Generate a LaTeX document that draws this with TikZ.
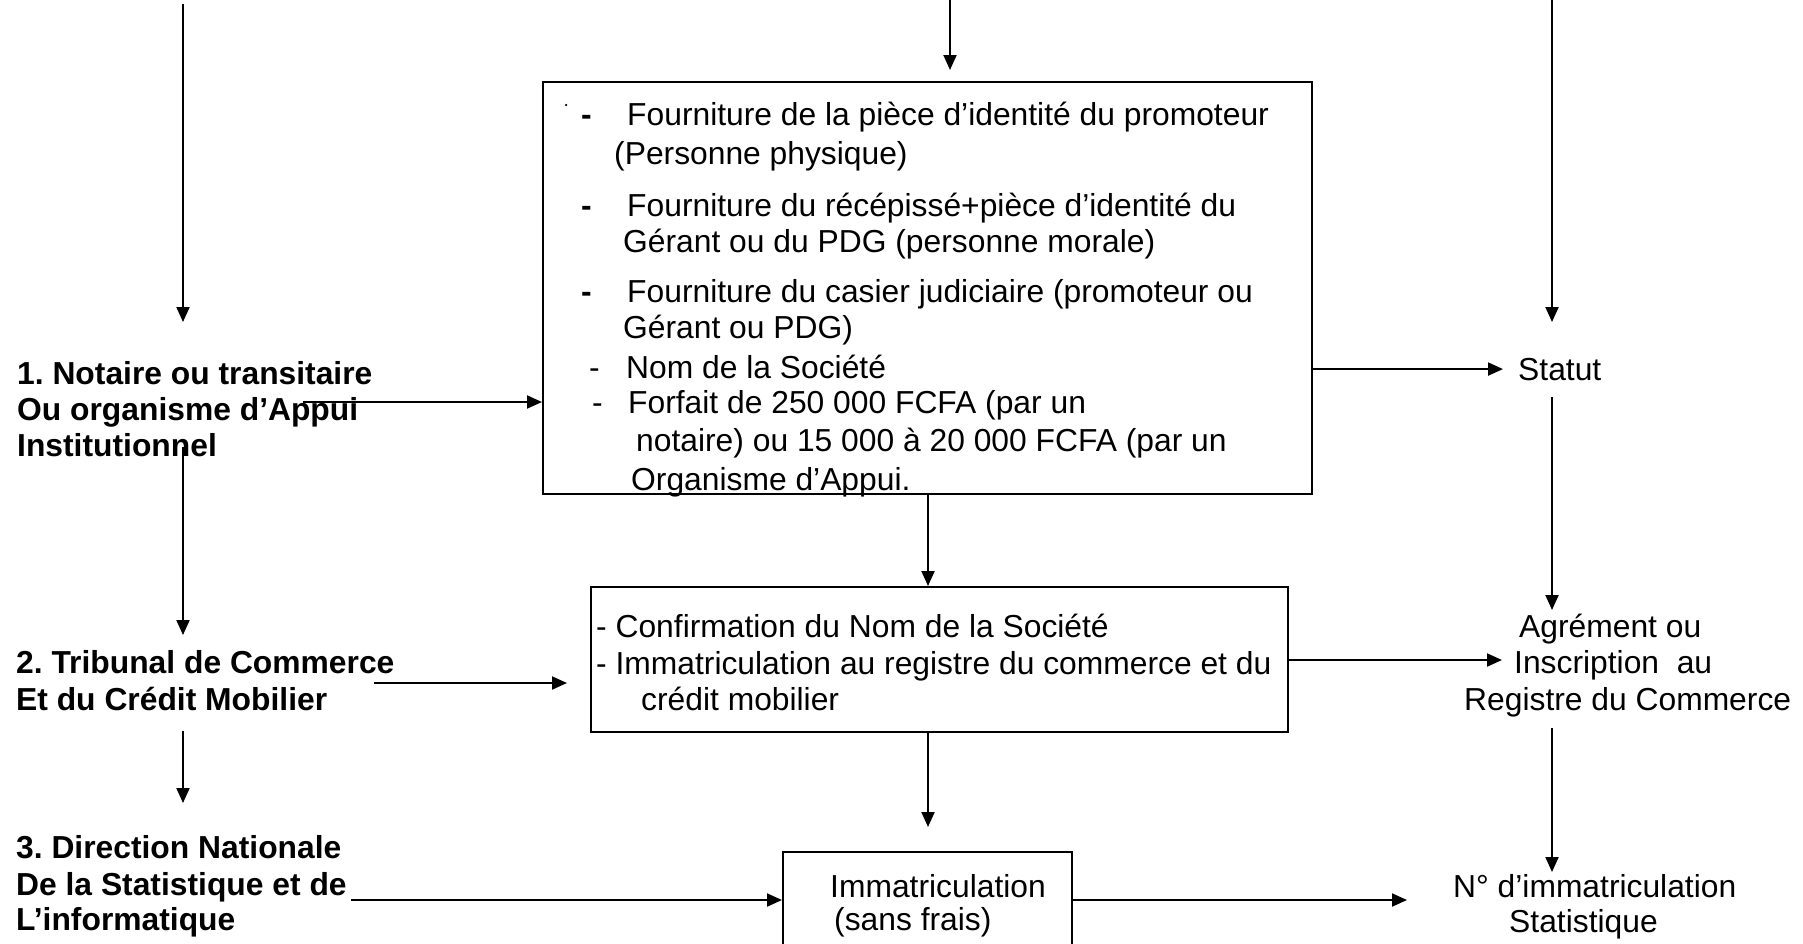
\documentclass[tikz,border=0pt]{standalone}
\usepackage{fontspec}
\setmainfont{Liberation Sans}
\usetikzlibrary{arrows.meta}
\frenchspacing
\begin{document}
\begin{tikzpicture}[x=1pt,y=-1pt,
  lbl/.style={anchor=base west, inner sep=0pt, font=\fontsize{31.8}{38}\selectfont},
  blbl/.style={anchor=base west, inner sep=0pt, font=\fontsize{31.8}{38}\selectfont\bfseries},
  box/.style={draw, line width=2pt, inner sep=0pt},
  arr/.style={line width=2pt, -{Triangle[length=15pt,width=13pt]}}]
\useasboundingbox (0,0) rectangle (1803,943);
\clip (0,0) rectangle (1803,943);

% boxes
\node[box, minimum width=769pt, minimum height=412pt] (box1) at (927.5,288) {};
\node[box, minimum width=697pt, minimum height=145pt] (box2) at (939.5,659.5) {};
\node[box, minimum width=289pt, minimum height=148pt] (box3) at (927.5,926) {};

% left labels
\node[blbl] (n1a) at (17,384) {1. Notaire ou transitaire};
\node[blbl] (n1b) at (17,420) {Ou organisme d’Appui};
\node[blbl] (n1c) at (17,456) {Institutionnel};
\node[blbl] (n2a) at (16,673) {2. Tribunal de Commerce};
\node[blbl] (n2b) at (16,710) {Et du Crédit Mobilier};
\node[blbl] (n3a) at (16,858) {3. Direction Nationale};
\node[blbl] (n3b) at (16,895) {De la Statistique et de};
\node[blbl] (n3c) at (16,930) {L’informatique};

% box 1 text
\node[circle, fill, inner sep=0pt, minimum size=2.5pt] (dot) at (566,105) {};
\node[blbl] (d1) at (581,125) {-};
\node[lbl] (l1) at (627,125) {Fourniture de la pièce d’identité du promoteur};
\node[lbl] (l2) at (614,164) {(Personne physique)};
\node[blbl] (d2) at (581,216) {-};
\node[lbl] (l3) at (627,216) {Fourniture du récépissé+pièce d’identité du};
\node[lbl] (l4) at (623,252) {Gérant ou du PDG (personne morale)};
\node[blbl] (d3) at (581,302) {-};
\node[lbl] (l5) at (627,302) {Fourniture du casier judiciaire (promoteur ou};
\node[lbl] (l6) at (623,338) {Gérant ou PDG)};
\node[lbl] (d4) at (589,378) {-};
\node[lbl] (l7) at (626,378) {Nom de la Société};
\node[lbl] (d5) at (592,413) {-};
\node[lbl] (l8) at (628,413) {Forfait de 250 000 FCFA (par un};
\node[lbl] (l9) at (636,451) {notaire) ou 15 000 à 20 000 FCFA (par un};
\node[lbl] (l10) at (631,490) {Organisme d’Appui.};

% box 2 text
\node[lbl] (b2a) at (596,637) {- Confirmation du Nom de la Société};
\node[lbl] (b2b) at (596,674) {- Immatriculation au registre du commerce et du};
\node[lbl] (b2c) at (641,710) {crédit mobilier};

% box 3 text
\node[lbl] (b3a) at (830,897) {Immatriculation};
\node[lbl] (b3b) at (834,930) {(sans frais)};

% right labels
\node[lbl] (statut) at (1518,380) {Statut};
\node[lbl] (agr1) at (1519,637) {Agrément ou};
\node[lbl] (agr2) at (1514,673) {Inscription\ \ au};
\node[lbl] (agr3) at (1464,710) {Registre du Commerce};
\node[lbl] (num1) at (1453,897) {N° d’immatriculation};
\node[lbl] (num2) at (1509,932) {Statistique};

% connector ends
\coordinate (a1s) at (183,4);    \coordinate (a1e) at (183,322);
\coordinate (a2s) at (950,0);    \coordinate (a2e) at (950,70);
\coordinate (a3s) at (1552,0);   \coordinate (a3e) at (1552,322);
\coordinate (a4s) at (303,402);
\coordinate (a5s) at (183,447);  \coordinate (a5e) at (183,635);
\coordinate (a6s) at (374,683);  \coordinate (a6e) at (567,683);
\coordinate (a7s) at (183,731);  \coordinate (a7e) at (183,803);
\coordinate (a8s) at (351,900);
\coordinate (a10s) at (1552,397); \coordinate (a10e) at (1552,610);
\coordinate (mid) at (928,0);
\coordinate (a12e) at (1502,660);
\coordinate (a13s) at (1552,728); \coordinate (a13e) at (1552,872);
\coordinate (a15e) at (1407,900);

% connectors
\draw[arr] (a1s) -- (a1e);
\draw[arr] (a2s) -- (a2e);
\draw[arr] (a3s) -- (a3e);
\draw[arr] (a4s) -- (a4s -| box1.west);
\draw[arr] (a5s) -- (a5e);
\draw[arr] (a6s) -- (a6e);
\draw[arr] (a7s) -- (a7e);
\draw[arr] (a8s) -- (a8s -| box3.west);
\draw[arr] (box1.east |- statut.west) -- ([xshift=-15pt]statut.west);
\draw[arr] (a10s) -- (a10e);
\draw[arr] (mid |- box1.south) -- (mid |- box2.north);
\draw[arr] (box2.east |- a12e) -- (a12e);
\draw[arr] (a13s) -- (a13e);
\draw[arr] (mid |- box2.south) -- (mid |- 0,827);
\draw[arr] (box3.east |- a15e) -- (a15e);
\end{tikzpicture}
\end{document}
